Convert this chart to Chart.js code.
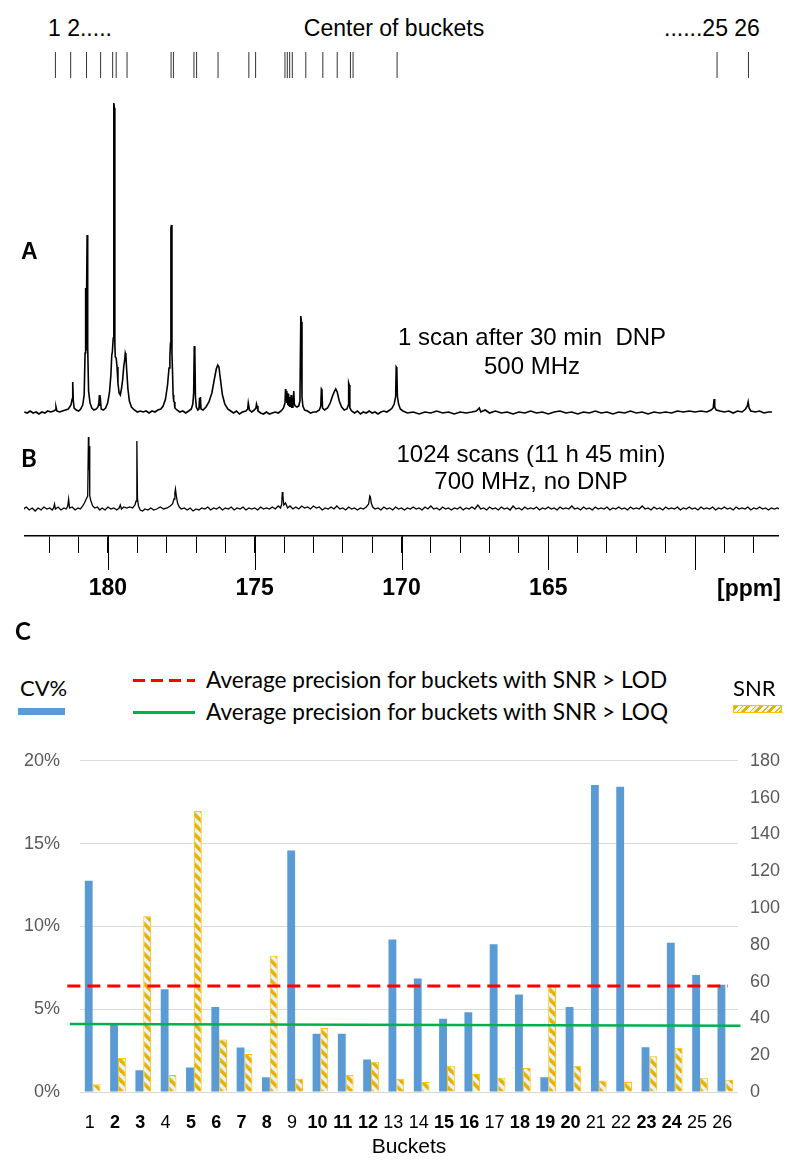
<!DOCTYPE html>
<html>
<head>
<meta charset="utf-8">
<script src="https://cdn.jsdelivr.net/npm/chart.js@4.4.1/dist/chart.umd.min.js"></script>
<style>
  body { margin: 0; background: #fff; font-family: 'Liberation Sans', Arial, sans-serif; }
  #page { position: relative; width: 800px; height: 1174px; overflow: hidden; background: #fff; }
  canvas { position: absolute; }
  .txt { position: absolute; white-space: pre; line-height: 1; transform: translate(-50%, -50%); color: #000; }
  .left { transform: translate(0, -50%); }
  .sw { position: absolute; }
</style>
</head>
<body>
<div id="page">
  <div class="txt left" style="left:48px; top:28px; font-size:23px;">1 2.....</div>
  <div class="txt" style="left:394px; top:28px; font-size:23px;">Center of buckets</div>
  <div class="txt left" style="left:664px; top:28px; font-size:23px;">......25 26</div>

  <canvas id="bucketChart" width="755" height="40" style="left:24px; top:45px;"></canvas>
  <canvas id="specAChart" width="755" height="330" style="left:24px; top:90px;"></canvas>
  <canvas id="specBChart" width="755" height="185" style="left:24px; top:425px;"></canvas>

  <div class="txt left" style="left:21px; top:251px; font-size:23px; font-weight:bold;">A</div>
  <div class="txt" style="left:532px; top:337px; font-size:24px;">1 scan after 30 min  DNP</div>
  <div class="txt" style="left:532px; top:366px; font-size:24px;">500 MHz</div>
  <div class="txt left" style="left:21px; top:458px; font-size:24px; font-weight:bold; font-family:Lato;">B</div>
  <div class="txt" style="left:531px; top:454px; font-size:24px;">1024 scans (11 h 45 min)</div>
  <div class="txt" style="left:531px; top:481px; font-size:24px;">700 MHz, no DNP</div>
  <div class="txt" style="left:749px; top:588px; font-size:23px; font-weight:bold;">[ppm]</div>

  <div class="txt left" style="left:15px; top:631px; font-size:24px; font-weight:bold; font-family:Lato;">C</div>
  <div class="txt left" style="left:20px; top:688px; font-size:22px; font-family:Lato;">CV%</div>
  <div class="sw" style="left:18px; top:708px; width:47px; height:7px; background:#5b9bd5;"></div>
  <div class="sw" style="left:133px; top:679px; width:62px; height:3px; background:repeating-linear-gradient(90deg,#ff0000 0 12px,transparent 12px 18px);"></div>
  <div class="txt left" style="left:206px; top:680px; font-size:22.6px; font-family:Lato;">Average precision for buckets with SNR &gt; LOD</div>
  <div class="sw" style="left:133px; top:711px; width:62px; height:2.5px; background:#00b050;"></div>
  <div class="txt left" style="left:206px; top:712px; font-size:22.6px; font-family:Lato;">Average precision for buckets with SNR &gt; LOQ</div>
  <div class="txt left" style="left:733px; top:688px; font-size:22px; font-family:Lato;">SNR</div>
  <div class="sw" style="left:733px; top:705px; width:47px; height:6px; border:1px solid #ffc000; background:repeating-linear-gradient(135deg,#e8b000 0 3px,#fbf3f5 3px 6px,#c9c02a 6px 7px,#e3f3f7 7px 9px);"></div>

  <canvas id="barChart" width="800" height="444" style="left:0px; top:730px;"></canvas>
  <canvas id="lineChart" width="800" height="444" style="left:0px; top:730px;"></canvas>
</div>

<script>
// ppm range shown across the top panels (left edge -> right edge)
const PPM_LEFT = 182.86;
const PPM_RIGHT = 157.14;

const bucketCenters = [181.79, 181.27, 180.73, 180.25, 179.84, 179.72, 179.35,
    177.85, 177.77, 177.07, 176.98, 176.25, 175.20, 174.97,
    173.97, 173.89, 173.81, 173.72, 173.26, 172.68, 172.19, 171.74, 171.65, 170.15,
    159.25, 158.18];

// ppm axis
const ppmTicks = [182, 181, 180, 179, 178, 177, 176, 175, 174, 173, 172, 171, 170,
    169, 168, 167, 166, 165, 164, 163, 162, 161, 160, 159, 158];
const ppmMajor = [180, 175, 170, 165, 160];
const ppmLabels = [180, 175, 170, 165];

// spectrum A: 1 scan after 30 min DNP, 500 MHz  [ppm, intensity]
const spectrumA = [
    [182.85, 1], [182.75, 0], [182.65, 2], [182.55, 0], [182.45, 1], [182.35, -1], [182.25, 1], [182.15, 0],
    [182.05, 2], [181.95, 1], [181.85, 2], [181.80, 3], [181.77, 6], [181.74, 2], [181.65, 1], [181.55, 2],
    [181.45, 3], [181.35, 4], [181.26, 8], [181.22, 14], [181.20, 31], [181.18, 12], [181.15, 5], [181.08, 3],
    [181.00, 2], [180.93, 4], [180.86, 8], [180.81, 18], [180.78, 60], [180.76, 125], [180.745, 62], [180.73, 62],
    [180.71, 178], [180.69, 66], [180.66, 22], [180.61, 10], [180.55, 5], [180.48, 3], [180.40, 4], [180.34, 6],
    [180.31, 10], [180.29, 18], [180.275, 7], [180.25, 11], [180.23, 4], [180.16, 3], [180.08, 5], [180.01, 10],
    [179.95, 20], [179.90, 38], [179.87, 58], [179.85, 61], [179.82, 75], [179.80, 310], [179.78, 305], [179.765, 70],
    [179.75, 56], [179.72, 55], [179.69, 46], [179.66, 30], [179.62, 20], [179.58, 18], [179.54, 24], [179.50, 33],
    [179.46, 47], [179.43, 53], [179.41, 60], [179.39, 58], [179.36, 42], [179.32, 24], [179.27, 12], [179.20, 6],
    [179.10, 3], [179.00, 1], [178.90, 2], [178.80, 1], [178.70, 2], [178.60, 0], [178.50, 2], [178.40, 1],
    [178.30, 3], [178.20, 4], [178.12, 7], [178.04, 14], [177.97, 28], [177.92, 45], [177.89, 56], [177.87, 70],
    [177.855, 185], [177.835, 188], [177.82, 60], [177.80, 41], [177.78, 18], [177.76, 12], [177.74, 11], [177.72, 5],
    [177.65, 3], [177.55, 1], [177.45, 2], [177.35, 0], [177.25, 2], [177.16, 4], [177.11, 9], [177.08, 20],
    [177.06, 67], [177.04, 62], [177.02, 16], [176.99, 6], [176.94, 3], [176.90, 4], [176.88, 15], [176.87, 5],
    [176.85, 16], [176.83, 4], [176.76, 3], [176.66, 6], [176.56, 11], [176.46, 20], [176.38, 33], [176.31, 44],
    [176.26, 48], [176.22, 46], [176.17, 34], [176.10, 18], [176.02, 9], [175.92, 4], [175.82, 2], [175.72, 0],
    [175.62, 2], [175.52, -1], [175.42, 1], [175.30, 2], [175.24, 4], [175.22, 10], [175.20, 10], [175.18, 3],
    [175.10, 1], [175.01, 3], [174.96, 5], [174.94, 9], [174.92, 7], [174.89, 2], [174.80, 0], [174.70, -1],
    [174.60, 1], [174.50, -1], [174.40, 0], [174.30, 1], [174.20, 0], [174.10, 2], [174.02, 5], [173.97, 10],
    [173.95, 24], [173.94, 12], [173.92, 22], [173.905, 10], [173.89, 20], [173.875, 8], [173.86, 19], [173.845, 7],
    [173.83, 16], [173.815, 6], [173.80, 14], [173.78, 6], [173.76, 18], [173.74, 5], [173.72, 15], [173.70, 5],
    [173.67, 22], [173.65, 9], [173.62, 7], [173.56, 6], [173.50, 7], [173.46, 12], [173.43, 97], [173.41, 91],
    [173.39, 16], [173.36, 7], [173.30, 3], [173.20, 2], [173.10, 0], [173.00, 1], [172.90, 1], [172.80, 3],
    [172.75, 7], [172.73, 24], [172.71, 23], [172.69, 5], [172.62, 3], [172.52, 5], [172.43, 10], [172.35, 17],
    [172.28, 22], [172.24, 24], [172.19, 21], [172.12, 12], [172.04, 6], [171.95, 3], [171.86, 4], [171.81, 8],
    [171.80, 30], [171.78, 28], [171.76, 5], [171.70, 2], [171.60, 0], [171.50, 2], [171.40, -1], [171.30, 1],
    [171.20, 0], [171.10, 2], [171.00, 0], [170.90, 1], [170.80, -1], [170.70, 1], [170.60, 2], [170.50, 1],
    [170.40, 3], [170.32, 5], [170.25, 9], [170.20, 16], [170.18, 46], [170.16, 45], [170.14, 17], [170.10, 9],
    [170.04, 4], [169.95, 2], [169.80, 0], [169.60, 1], [169.40, -1], [169.20, 1], [169.00, 0], [168.80, 2],
    [168.60, 0], [168.40, 1], [168.20, -1], [168.00, 1], [167.80, 0], [167.60, 1], [167.45, 2], [167.35, 5],
    [167.30, 1], [167.15, 3], [167.00, 0], [166.80, 2], [166.60, 0], [166.40, 1], [166.20, -1], [166.00, 1],
    [165.80, 0], [165.60, 2], [165.40, 0], [165.20, 1], [165.00, -1], [164.80, 1], [164.60, 2], [164.40, 0],
    [164.20, 1], [164.00, -1], [163.80, 1], [163.60, 0], [163.40, 2], [163.20, 0], [163.00, 1], [162.80, -1],
    [162.60, 1], [162.40, 0], [162.20, 2], [162.00, 0], [161.80, 1], [161.60, -1], [161.40, 1], [161.20, 0],
    [161.00, 1], [160.80, 0], [160.60, 2], [160.40, 1], [160.20, 2], [160.00, 1], [159.80, 2], [159.60, 1],
    [159.45, 3], [159.38, 5], [159.35, 14], [159.33, 6], [159.28, 3], [159.15, 2], [159.00, 1], [158.85, 2],
    [158.70, 0], [158.55, 2], [158.40, 1], [158.28, 4], [158.22, 7], [158.19, 11], [158.16, 5], [158.10, 2],
    [157.95, 1], [157.80, 2], [157.65, 0], [157.50, 1], [157.38, 1]
];

// spectrum B: 1024 scans, 700 MHz, no DNP  [ppm, intensity]
const spectrumB = [
    [182.88, 1], [182.78, 3], [182.68, 0], [182.58, 2], [182.48, -1], [182.38, 2], [182.28, 0], [182.18, 3],
    [182.08, 1], [181.98, 2], [181.90, 0], [181.85, 2], [181.82, 6], [181.79, 1], [181.70, 3], [181.60, 0],
    [181.50, 2], [181.42, 1], [181.37, 4], [181.34, 11], [181.31, 2], [181.22, 3], [181.12, 0], [181.02, 2],
    [180.94, 1], [180.86, 4], [180.80, 7], [180.74, 11], [180.69, 14], [180.665, 73], [180.65, 40], [180.635, 64],
    [180.62, 14], [180.58, 9], [180.52, 4], [180.45, 2], [180.36, 3], [180.28, 0], [180.20, 2], [180.10, 0],
    [180.00, 3], [179.90, 1], [179.80, 2], [179.70, 0], [179.62, 2], [179.58, 5], [179.54, 1], [179.46, 3],
    [179.36, 2], [179.26, 3], [179.16, 2], [179.08, 5], [179.04, 9], [179.015, 69], [178.995, 12], [178.96, 4],
    [178.90, 0], [178.82, -1], [178.74, 1], [178.64, 0], [178.54, 2], [178.44, 0], [178.34, 1], [178.22, 3],
    [178.10, 1], [177.98, 2], [177.88, 4], [177.80, 6], [177.75, 11], [177.72, 17], [177.70, 21], [177.67, 14],
    [177.63, 7], [177.57, 3], [177.50, 1], [177.40, 2], [177.30, 0], [177.20, 2], [177.10, -1], [177.00, 1],
    [176.90, 0], [176.80, 2], [176.70, 1], [176.60, 3], [176.50, 0], [176.40, 2], [176.30, 1], [176.20, 3],
    [176.10, 0], [176.00, 2], [175.90, 1], [175.80, 3], [175.70, 0], [175.60, 2], [175.50, 1], [175.40, 3],
    [175.30, 0], [175.20, 2], [175.10, 1], [175.00, 2], [174.90, 0], [174.80, 3], [174.70, 1], [174.60, 2],
    [174.50, 1], [174.40, 3], [174.30, 1], [174.20, 4], [174.12, 2], [174.08, 6], [174.06, 18], [174.04, 14],
    [174.01, 5], [173.95, 7], [173.88, 2], [173.80, 4], [173.70, 1], [173.60, 3], [173.50, 1], [173.40, 4],
    [173.30, 2], [173.20, 3], [173.10, 1], [173.00, 4], [172.90, 2], [172.80, 3], [172.70, 0], [172.60, 2],
    [172.50, 1], [172.40, 3], [172.30, 1], [172.20, 4], [172.10, 1], [172.00, 2], [171.90, 0], [171.80, 3],
    [171.70, 1], [171.60, 2], [171.50, 0], [171.40, 2], [171.30, 1], [171.20, 3], [171.12, 6], [171.08, 14],
    [171.06, 13], [171.03, 7], [170.98, 3], [170.90, 1], [170.80, 2], [170.70, 0], [170.60, 3], [170.50, 1],
    [170.40, 2], [170.30, 0], [170.20, 3], [170.10, 1], [170.00, 2], [169.90, 0], [169.80, 2], [169.70, 1],
    [169.60, 3], [169.50, 1], [169.40, 2], [169.30, 0], [169.20, 3], [169.10, 1], [169.00, 4], [168.90, 1],
    [168.80, 2], [168.70, 0], [168.60, 3], [168.50, 1], [168.40, 2], [168.30, 0], [168.20, 2], [168.10, 1],
    [168.00, 3], [167.90, 0], [167.80, 2], [167.70, 1], [167.60, 3], [167.50, 1], [167.40, 5], [167.30, 1],
    [167.20, 2], [167.10, 0], [167.00, 3], [166.90, 1], [166.80, 2], [166.70, 0], [166.60, 3], [166.50, 1],
    [166.40, 2], [166.30, 0], [166.20, 4], [166.10, 1], [166.00, 2], [165.90, 0], [165.80, 3], [165.70, 1],
    [165.60, 2], [165.50, 1], [165.40, 3], [165.30, 0], [165.20, 2], [165.10, 1], [165.00, 3], [164.90, 1],
    [164.80, 2], [164.70, 0], [164.60, 3], [164.50, 1], [164.40, 2], [164.30, 1], [164.20, 4], [164.10, 1],
    [164.00, 2], [163.90, 0], [163.80, 3], [163.70, 1], [163.60, 2], [163.50, 0], [163.40, 3], [163.30, 1],
    [163.20, 2], [163.10, 1], [163.00, 3], [162.90, 0], [162.80, 2], [162.70, 1], [162.60, 3], [162.50, 1],
    [162.40, 2], [162.30, 0], [162.20, 3], [162.10, 1], [162.00, 2], [161.90, 1], [161.80, 4], [161.70, 1],
    [161.60, 2], [161.50, 0], [161.40, 3], [161.30, 1], [161.20, 2], [161.10, 0], [161.00, 3], [160.90, 1],
    [160.80, 2], [160.70, 1], [160.60, 3], [160.50, 0], [160.40, 2], [160.30, 1], [160.20, 3], [160.10, 1],
    [160.00, 2], [159.90, 0], [159.80, 3], [159.70, 1], [159.60, 2], [159.50, 1], [159.40, 3], [159.30, 0],
    [159.20, 2], [159.10, 1], [159.00, 3], [158.90, 1], [158.80, 2], [158.70, 0], [158.60, 3], [158.50, 1],
    [158.40, 2], [158.30, 1], [158.20, 3], [158.10, 0], [158.00, 2], [157.90, 1], [157.80, 3], [157.70, 1],
    [157.60, 2], [157.50, 0], [157.40, 2], [157.30, 1], [157.20, 2], [157.12, 1]
];

// panel C data
const bucketLabels = ['1', '2', '3', '4', '5', '6', '7', '8', '9', '10', '11', '12', '13',
    '14', '15', '16', '17', '18', '19', '20', '21', '22', '23', '24', '25', '26'];
const boldBuckets = [2, 3, 5, 6, 7, 8, 10, 11, 12, 15, 16, 18, 19, 20, 23, 24];
const cvValues = [12.75, 4.10, 1.32, 6.20, 1.48, 5.13, 2.68, 0.89, 14.58, 3.52, 3.52, 1.96, 9.21,
    6.86, 4.43, 4.82, 8.92, 5.89, 0.89, 5.13, 18.54, 18.43, 2.70, 9.02, 7.07, 6.47];
const snrValues = [4.2, 18.5, 95.5, 9.3, 152.7, 28.5, 20.6, 74, 7.2, 34.8, 9.3, 16.4, 7.2,
    5.4, 14.2, 9.8, 7.7, 13, 57.9, 14.2, 6.3, 5.4, 19.4, 24.1, 7.7, 6.6];
// average precision lines [bucket position, CV%]
const lodLine = [[0, 6.18], [26.1, 6.18]];
const loqLine = [[0.1, 3.96], [26.6, 3.87]];

const FONT = 'Liberation Sans';

const commonTop = {
    responsive: false,
    animation: false,
    events: [],
    layout: { padding: 0, autoPadding: false },
    plugins: { legend: { display: false }, tooltip: { enabled: false } }
};

// bucket center ticks
new Chart(document.getElementById('bucketChart'), {
    type: 'scatter',
    data: {
        datasets: [{
            data: bucketCenters.map(p => [p, 0]),
            pointStyle: 'line',
            rotation: 90,
            pointRadius: 13,
            borderWidth: 1,
            borderColor: '#333',
            clip: false
        }]
    },
    options: {
        ...commonTop,
        scales: {
            x: { type: 'linear', min: PPM_RIGHT, max: PPM_LEFT, reverse: true, display: false },
            y: { min: -1, max: 1, display: false }
        }
    }
});

// spectrum A
new Chart(document.getElementById('specAChart'), {
    type: 'scatter',
    data: {
        datasets: [{
            data: spectrumA,
            showLine: true,
            borderColor: '#000',
            borderWidth: 1.6,
            pointRadius: 0,
            tension: 0
        }]
    },
    options: {
        ...commonTop,
        scales: {
            x: { type: 'linear', min: PPM_RIGHT, max: PPM_LEFT, reverse: true, display: false },
            y: { min: -7, max: 323, display: false }
        }
    }
});

// longer ticks every 5 ppm
const majorTickPlugin = {
    id: 'majorTicks',
    afterDraw(chart) {
        const xs = chart.scales.x;
        const ctx = chart.ctx;
        const y0 = chart.chartArea.bottom;
        ctx.save();
        ctx.strokeStyle = '#000';
        ctx.lineWidth = 1;
        ppmMajor.forEach(v => {
            const px = Math.round(xs.getPixelForValue(v)) + 0.5;
            ctx.beginPath();
            ctx.moveTo(px, y0);
            ctx.lineTo(px, y0 + 34);
            ctx.stroke();
        });
        ctx.restore();
    }
};

// spectrum B + ppm axis
new Chart(document.getElementById('specBChart'), {
    type: 'scatter',
    data: {
        datasets: [{
            data: spectrumB,
            showLine: true,
            borderColor: '#000',
            borderWidth: 1.3,
            pointRadius: 0,
            tension: 0
        }]
    },
    options: {
        ...commonTop,
        scales: {
            x: {
                type: 'linear', min: PPM_RIGHT, max: PPM_LEFT, reverse: true, position: 'bottom',
                afterBuildTicks: s => { s.ticks = ppmTicks.map(v => ({ value: v })); },
                afterFit: s => { s.height = 74; },
                border: { display: true, color: '#000', width: 1.5 },
                grid: { drawOnChartArea: false, drawTicks: true, tickLength: 17, color: '#000', lineWidth: 1 },
                ticks: {
                    autoSkip: false, maxRotation: 0, padding: 22, color: '#000',
                    font: { family: FONT, size: 23, weight: 'bold' },
                    callback: v => ppmLabels.includes(v) ? String(v) : ''
                }
            },
            y: { min: -26, max: 85, display: false }
        }
    },
    plugins: [majorTickPlugin]
});

// hatched fill for SNR bars
function makeHatch() {
    const pc = document.createElement('canvas');
    pc.width = 10;
    pc.height = 10;
    const g = pc.getContext('2d');
    g.fillStyle = '#fbf2f5';
    g.fillRect(0, 0, 10, 10);
    g.lineCap = 'square';
    const stripe = (color, w, off) => {
        g.strokeStyle = color;
        g.lineWidth = w;
        for (let k = -10; k <= 10; k += 10) {
            g.beginPath();
            g.moveTo(k + off, 0);
            g.lineTo(k + off + 10, 10);
            g.stroke();
        }
    };
    stripe('#e9b000', 3.2, 0);
    stripe('#c4bd2c', 1, 2.5);
    stripe('#e2f3f8', 2, 6);
    return g.createPattern(pc, 'repeat');
}
const hatch = makeHatch();

// chart area of panel C (canvas coords)
const AREA = { left: 80, right: 62, top: 19, bottom: 82 };

// panel C bars
new Chart(document.getElementById('barChart'), {
    type: 'bar',
    data: {
        labels: bucketLabels,
        datasets: [
            {
                label: 'CV%', data: cvValues, yAxisID: 'y',
                backgroundColor: '#5b9bd5',
                categoryPercentage: 0.62, barPercentage: 1
            },
            {
                label: 'SNR', data: snrValues, yAxisID: 'y2',
                backgroundColor: hatch, borderColor: '#ffc000', borderWidth: 1,
                categoryPercentage: 0.62, barPercentage: 1
            }
        ]
    },
    options: {
        responsive: false,
        animation: false,
        events: [],
        layout: { padding: { top: AREA.top, left: 0, right: 0, bottom: 0 } },
        plugins: { legend: { display: false }, tooltip: { enabled: false } },
        scales: {
            x: {
                type: 'category',
                grid: { display: false },
                border: { display: false },
                ticks: {
                    color: '#000', padding: 12, labelOffset: -3, autoSkip: false, maxRotation: 0,
                    font: ctx => ({
                        family: FONT, size: 18,
                        weight: boldBuckets.includes(Number(bucketLabels[ctx.index])) ? 'bold' : 'normal'
                    })
                },
                title: {
                    display: true, text: 'Buckets', color: '#000',
                    font: { family: FONT, size: 21 }, padding: { top: 0, bottom: 14 }
                },
                afterFit: s => { s.height = AREA.bottom; }
            },
            y: {
                position: 'left', min: 0, max: 20,
                ticks: { stepSize: 5, callback: v => v + '%', color: '#595959', font: { family: FONT, size: 18 }, padding: 20 },
                grid: { color: '#d9d9d9', lineWidth: 1, drawTicks: false },
                border: { display: false },
                afterFit: s => { s.width = AREA.left; }
            },
            y2: {
                position: 'right', min: 0, max: 180,
                ticks: { stepSize: 20, color: '#595959', font: { family: FONT, size: 18 }, padding: 12 },
                grid: { drawOnChartArea: false, drawTicks: false },
                border: { display: false },
                afterFit: s => { s.width = AREA.right; }
            }
        }
    }
});

// panel C precision lines, same chart area, drawn on top
new Chart(document.getElementById('lineChart'), {
    type: 'scatter',
    data: {
        datasets: [
            {
                label: 'Average precision for buckets with SNR > LOD', data: lodLine, showLine: true,
                borderColor: '#ff0000', borderWidth: 3, borderDash: [13, 7], pointRadius: 0, clip: false
            },
            {
                label: 'Average precision for buckets with SNR > LOQ', data: loqLine, showLine: true,
                borderColor: '#00b050', borderWidth: 2.5, pointRadius: 0, clip: false
            }
        ]
    },
    options: {
        responsive: false,
        animation: false,
        events: [],
        layout: { padding: AREA, autoPadding: false },
        plugins: { legend: { display: false }, tooltip: { enabled: false } },
        scales: {
            x: { type: 'linear', display: false, min: 0.5, max: 26.5 },
            y: { display: false, min: 0, max: 20 }
        }
    }
});
</script>
</body>
</html>
